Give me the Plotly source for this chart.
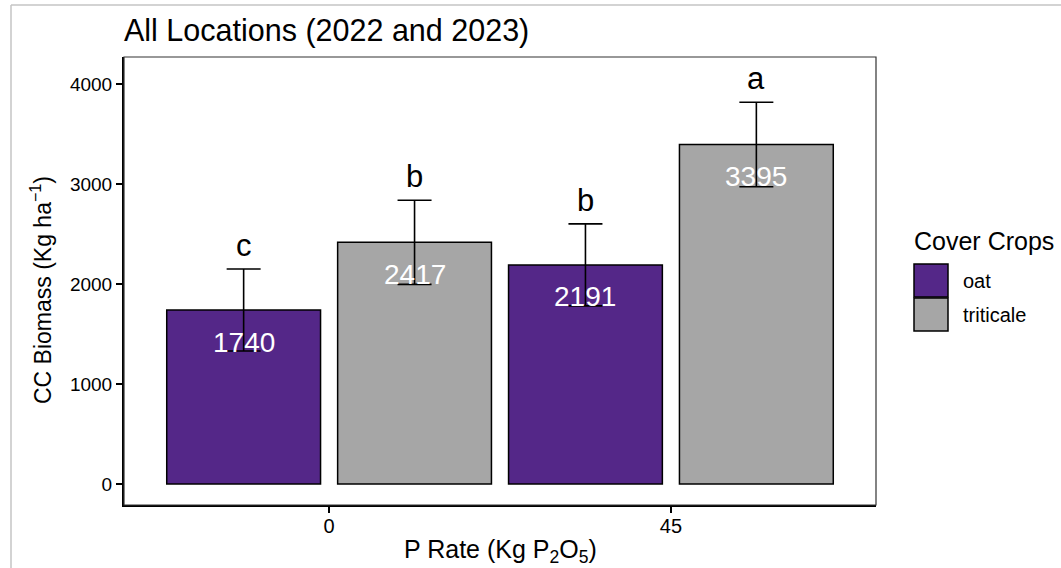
import plotly.graph_objects as go

# Cover crop biomass by P rate, pooled across locations (2022 and 2023)
p_rates = ["0", "45"]
crops = ["oat", "triticale"]
biomass = {
    "oat": [1740, 2191],
    "triticale": [2417, 3395],
}
std_err = {
    "oat": [410, 410],
    "triticale": [421, 423],
}
letters = {
    "oat": ["c", "b"],
    "triticale": ["b", "a"],
}
colors = {"oat": "#542788", "triticale": "#A6A6A6"}

FONT = "Liberation Sans, Arial, Helvetica, sans-serif"
W, H = 1061, 568
ML, MR, MT, MB = 124, 185, 57, 63
PW, PH = W - ML - MR, H - MT - MB


def px_x(px):
    return (px - ML) / PW


def px_y(py):
    return (H - MB - py) / PH


fig = go.Figure()
offsets = {"oat": -0.25, "triticale": 0.25}
annotations = []

for crop in crops:
    fig.add_trace(go.Bar(
        x=p_rates,
        y=biomass[crop],
        name=crop,
        marker=dict(color=colors[crop], line=dict(color="black", width=1.5)),
        error_y=dict(type="data", array=std_err[crop], color="black",
                     thickness=1.6, width=17),
        showlegend=False,
    ))
    for i, (val, se, let) in enumerate(zip(biomass[crop], std_err[crop], letters[crop])):
        xpos = i + offsets[crop]
        # mean value printed inside the top of the bar
        annotations.append(dict(
            x=xpos, y=val, xref="x", yref="y", text=str(val), showarrow=False,
            yanchor="middle", yshift=-32,
            font=dict(family=FONT, size=28, color="white"),
        ))
        # significance letter above the error bar
        annotations.append(dict(
            x=xpos, y=val + se, xref="x", yref="y", text=let, showarrow=False,
            yanchor="bottom", yshift=4,
            font=dict(family=FONT, size=31, color="black"),
        ))

# axis titles
annotations.append(dict(
    x=0.5, y=px_y(551), xref="paper", yref="paper",
    text="P Rate (Kg P<sub>2</sub>O<sub>5</sub>)", showarrow=False,
    xanchor="center", yanchor="middle",
    font=dict(family=FONT, size=25, color="black"),
))
annotations.append(dict(
    x=px_x(41), y=px_y(290), xref="paper", yref="paper",
    text="CC Biomass (Kg ha<sup>\u22121</sup>)", showarrow=False, textangle=-90,
    xanchor="center", yanchor="middle",
    font=dict(family=FONT, size=23, color="black"),
))

# legend drawn as keyed squares on the right
annotations.append(dict(
    x=px_x(912), y=px_y(241), xref="paper", yref="paper", text="Cover Crops",
    showarrow=False, xanchor="left", yanchor="middle",
    font=dict(family=FONT, size=25, color="black"),
))
shapes = []
key_tops = [264, 298]
for crop, top in zip(crops, key_tops):
    shapes.append(dict(
        type="rect", xref="paper", yref="paper",
        x0=px_x(914), x1=px_x(948), y0=px_y(top + 33), y1=px_y(top),
        fillcolor=colors[crop], line=dict(color="black", width=1.5),
    ))
    annotations.append(dict(
        x=px_x(961), y=px_y(top + 17), xref="paper", yref="paper", text=crop,
        showarrow=False, xanchor="left", yanchor="middle",
        font=dict(family=FONT, size=20, color="black"),
    ))

# panel border (top and right sides)
shapes.append(dict(
    type="rect", xref="paper", yref="paper", x0=0, x1=1, y0=0, y1=1,
    line=dict(color="#333333", width=1.2), layer="above",
))
# light frame along the top and left of the canvas
shapes.append(dict(
    type="line", xref="paper", yref="paper",
    x0=px_x(11), x1=px_x(W + 2), y0=px_y(5), y1=px_y(5),
    line=dict(color="#C4C4C4", width=1.5),
))
shapes.append(dict(
    type="line", xref="paper", yref="paper",
    x0=px_x(11), x1=px_x(11), y0=px_y(5), y1=px_y(H + 2),
    line=dict(color="#C4C4C4", width=1.5),
))

fig.update_layout(
    width=W, height=H,
    margin=dict(l=ML, r=MR, t=MT, b=MB, autoexpand=False),
    paper_bgcolor="white", plot_bgcolor="white",
    barmode="group", bargap=0.0, bargroupgap=0.1,
    font=dict(family=FONT, color="black"),
    title=dict(
        text="All Locations (2022 and 2023)",
        x=ML / W, xanchor="left",
        y=1 - 30 / H, yanchor="middle",
        font=dict(family=FONT, size=30.5, color="black"),
    ),
    xaxis=dict(
        type="category", range=[-0.6, 1.6], automargin=False,
        showline=True, linecolor="black", linewidth=2,
        ticks="outside", ticklen=6, tickwidth=1.5, tickcolor="black",
        ticklabelstandoff=-4,
        tickfont=dict(family=FONT, size=20, color="black"),
        showgrid=False, zeroline=False,
    ),
    yaxis=dict(
        range=[-210, 4270], automargin=False,
        tickvals=[0, 1000, 2000, 3000, 4000],
        showline=True, linecolor="black", linewidth=2,
        ticks="outside", ticklen=6, tickwidth=1.5, tickcolor="black",
        tickfont=dict(family=FONT, size=19, color="black"),
        showgrid=False, zeroline=False,
    ),
    annotations=annotations,
    shapes=shapes,
)

fig.write_html("out.html")
